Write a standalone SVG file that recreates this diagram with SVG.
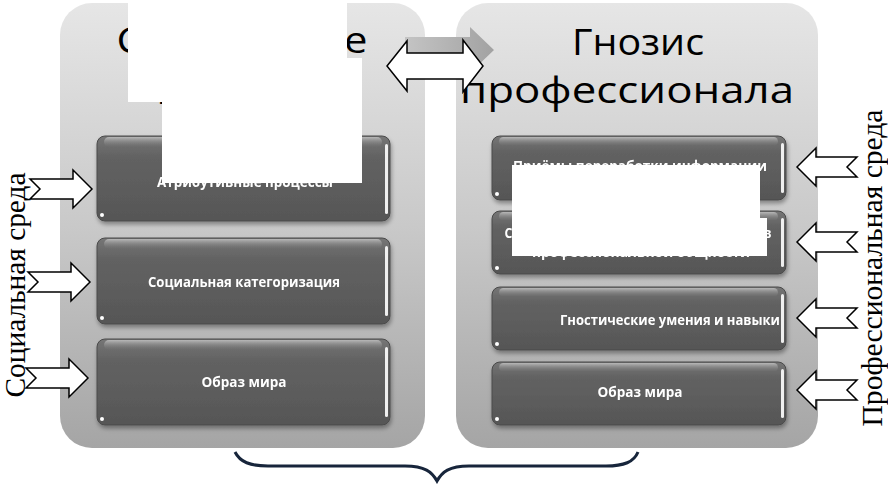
<svg xmlns="http://www.w3.org/2000/svg" width="888" height="484" viewBox="0 0 888 484">
<style>
.title{font-family:"Open Sans","Liberation Sans",sans-serif;font-size:36px;fill:#000;text-anchor:middle}
.bt{font-family:"Open Sans","Liberation Sans",sans-serif;font-size:13.5px;font-weight:700;fill:#fff;text-anchor:middle}
.vt{font-family:"Liberation Serif","Times New Roman",serif;font-size:29px;fill:#000;text-anchor:middle}
.arr{fill:#fff;stroke:#000;stroke-width:1.5;stroke-linejoin:miter}
.mask{fill:#fff}
.box{fill:url(#gBox);stroke:#4a4a4a;stroke-width:1}
.hl{fill:url(#gHl)}
.edge{fill:#fff;opacity:.9}
.dot{fill:#fff}
</style>
<defs>
<linearGradient id="gPanel" x1="0" y1="0" x2="0" y2="1">
<stop offset="0" stop-color="#e6e6e6"/>
<stop offset="0.5" stop-color="#c9c9c9"/>
<stop offset="1" stop-color="#a5a5a5"/>
</linearGradient>
<linearGradient id="gBox" x1="0" y1="0" x2="0" y2="1">
<stop offset="0" stop-color="#767676"/>
<stop offset="0.25" stop-color="#626262"/>
<stop offset="1" stop-color="#565656"/>
</linearGradient>
<linearGradient id="gHl" x1="0" y1="0" x2="0" y2="1">
<stop offset="0" stop-color="#b8b8b8"/>
<stop offset="1" stop-color="#7a7a7a" stop-opacity="0"/>
</linearGradient>
<linearGradient id="gGrey" x1="0" y1="0" x2="1" y2="0">
<stop offset="0" stop-color="#c4c4c4"/>
<stop offset="1" stop-color="#a2a2a2"/>
</linearGradient>
<filter id="sh" x="-5%" y="-10%" width="110%" height="125%">
<feDropShadow dx="1" dy="3" stdDeviation="2" flood-color="#000" flood-opacity="0.35"/>
</filter>
<path id="rArrow" d="M0,0 L-19,-19 L-19,-10 L-62,-10 L-52,0 L-62,10 L-19,10 L-19,19 Z"/>
<path id="lArrow" d="M0,0 L19,-19 L19,-10 L60,-10 L50,0 L60,10 L19,10 L19,19 Z"/>
</defs>
<rect width="888" height="484" fill="#fff"/>

<g id="panel-left">
<rect x="60" y="3" width="365" height="445" rx="32" fill="url(#gPanel)"/>
<text class="title" x="242" y="53" textLength="251" lengthAdjust="spacingAndGlyphs">Социальное</text>
<text class="title" x="242" y="104">познание</text>
</g>
<g id="panel-right">
<rect x="456" y="3" width="362" height="445" rx="32" fill="url(#gPanel)"/>
<text class="title" x="638" y="55" textLength="132" lengthAdjust="spacingAndGlyphs">Гнозис</text>
<text class="title" x="627" y="103" textLength="334" lengthAdjust="spacingAndGlyphs">профессионала</text>
</g>

<g id="L1" filter="url(#sh)">
<rect class="box" x="97" y="136" width="293" height="85" rx="8"/>
<rect class="hl" x="104" y="137" width="278" height="10" rx="5"/>
<rect class="edge" x="385" y="144" width="3" height="70" rx="1.5"/>
<circle class="dot" cx="102" cy="215" r="2"/>
<text class="bt" x="245" y="187" textLength="176" lengthAdjust="spacingAndGlyphs">Атрибутивные процессы</text>
</g>
<g id="L2" filter="url(#sh)">
<rect class="box" x="97" y="238" width="293" height="86" rx="8"/>
<rect class="hl" x="104" y="239" width="278" height="10" rx="5"/>
<rect class="edge" x="385" y="246" width="3" height="70" rx="1.5"/>
<circle class="dot" cx="102" cy="318" r="2"/>
<text class="bt" x="244" y="287" textLength="192" lengthAdjust="spacingAndGlyphs">Социальная категоризация</text>
</g>
<g id="L3" filter="url(#sh)">
<rect class="box" x="97" y="339" width="293" height="86" rx="8"/>
<rect class="hl" x="104" y="340" width="278" height="10" rx="5"/>
<rect class="edge" x="385" y="347" width="3" height="70" rx="1.5"/>
<circle class="dot" cx="102" cy="419" r="2"/>
<text class="bt" x="244" y="387" textLength="85" lengthAdjust="spacingAndGlyphs">Образ мира</text>
</g>

<g id="R1" filter="url(#sh)">
<rect class="box" x="492" y="136" width="294" height="64" rx="8"/>
<rect class="hl" x="499" y="137" width="279" height="9" rx="4.5"/>
<rect class="edge" x="781" y="143" width="3" height="50" rx="1.5"/>
<circle class="dot" cx="497" cy="194" r="2"/>
<text class="bt" x="640" y="171" textLength="254" lengthAdjust="spacingAndGlyphs">Приёмы переработки информации</text>
</g>
<g id="R2" filter="url(#sh)">
<rect class="box" x="492" y="211" width="294" height="63" rx="8"/>
<rect class="hl" x="499" y="212" width="279" height="9" rx="4.5"/>
<rect class="edge" x="781" y="218" width="3" height="49" rx="1.5"/>
<circle class="dot" cx="497" cy="268" r="2"/>
<text class="bt" x="638" y="238" textLength="267" lengthAdjust="spacingAndGlyphs">Социальные представления, принятые в</text>
<text class="bt" x="641" y="257" textLength="218" lengthAdjust="spacingAndGlyphs">профессиональной общности</text>
</g>
<g id="R3" filter="url(#sh)">
<rect class="box" x="492" y="287" width="294" height="63" rx="8"/>
<rect class="hl" x="499" y="288" width="279" height="9" rx="4.5"/>
<rect class="edge" x="781" y="294" width="3" height="49" rx="1.5"/>
<circle class="dot" cx="497" cy="344" r="2"/>
<text class="bt" x="670" y="325" textLength="220" lengthAdjust="spacingAndGlyphs">Гностические умения и навыки</text>
</g>
<g id="R4" filter="url(#sh)">
<rect class="box" x="492" y="362" width="294" height="63" rx="8"/>
<rect class="hl" x="499" y="363" width="279" height="9" rx="4.5"/>
<rect class="edge" x="781" y="369" width="3" height="49" rx="1.5"/>
<circle class="dot" cx="497" cy="419" r="2"/>
<text class="bt" x="640" y="397" textLength="85" lengthAdjust="spacingAndGlyphs">Образ мира</text>
</g>

<g id="masks">
<rect class="mask" x="128" y="0" width="219" height="102"/>
<rect class="mask" x="162" y="58" width="200" height="125"/>
<rect class="mask" x="512" y="165" width="248" height="53"/>
<rect class="mask" x="512" y="218" width="255" height="38"/>
</g>

<g id="label-social">
<text class="vt" transform="translate(25,285) rotate(-90)" textLength="225" lengthAdjust="spacingAndGlyphs">Социальная среда</text>
</g>
<g id="label-prof">
<text class="vt" transform="translate(882,268) rotate(-90)" textLength="317" lengthAdjust="spacingAndGlyphs">Профессиональная среда</text>
</g>

<g id="connectors">
<polygon points="405,37 470,37 470,27 494,50 470,73 470,63 405,63" fill="url(#gGrey)"/>
<polygon class="arr" points="387,66 407,41 407,53 463,53 463,40 483,66 463,92 463,79 407,79 407,91"/>
<use href="#rArrow" class="arr" x="92" y="189"/>
<use href="#rArrow" class="arr" x="90" y="282"/>
<use href="#rArrow" class="arr" x="88" y="378"/>
<use href="#lArrow" class="arr" x="797" y="167"/>
<use href="#lArrow" class="arr" x="797" y="242"/>
<use href="#lArrow" class="arr" x="797" y="318"/>
<use href="#lArrow" class="arr" x="797" y="390"/>
<path d="M235,452 C240,462 250,466 268,466 L405,466 C425,466 432,472 437,481 C442,472 449,466 469,466 L606,466 C624,466 634,462 638,452" fill="none" stroke="#17253b" stroke-width="3"/>
</g>
</svg>
